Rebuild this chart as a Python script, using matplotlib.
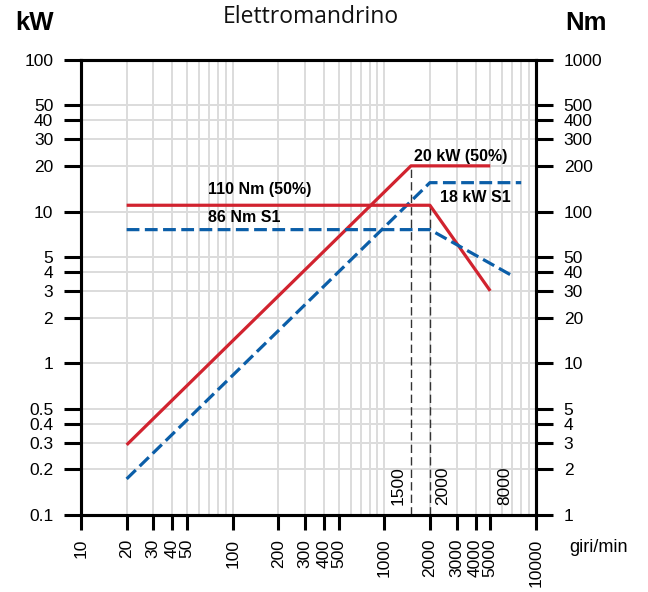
import matplotlib
matplotlib.use("Agg")
import matplotlib.pyplot as plt
from matplotlib.ticker import FixedLocator, FixedFormatter, NullLocator

plt.rcParams['font.family'] = ['Liberation Sans', 'DejaVu Sans']

# speed (giri/min) and values
rpm_power_50 = [20, 1500, 5000]
kw_power_50 = [0.29, 20, 20]
rpm_torque_50 = [20, 2000, 5000]
nm_torque_50 = [110, 110, 30]

rpm_power_s1 = [20, 2000, 8000]
kw_power_s1 = [0.173, 15.5, 15.5]
rpm_torque_s1 = [20, 2000, 6900]
nm_torque_s1 = [76, 76, 38]

x_ticks = [10, 20, 30, 40, 50, 100, 200, 300, 400, 500, 1000, 2000, 3000, 4000, 5000, 10000]
kw_ticks = [0.1, 0.2, 0.3, 0.4, 0.5, 1, 2, 3, 4, 5, 10, 20, 30, 40, 50, 100]
kw_labels = ["0.1", "0.2", "0.3", "0.4", "0.5", "1", "2", "3", "4", "5",
             "10", "20", "30", "40", "50", "100"]
nm_ticks = [1, 2, 3, 4, 5, 10, 20, 30, 40, 50, 100, 200, 300, 400, 500, 1000]
marker_rpm = [1500, 2000, 8000]

red = "#d1232f"
blue = "#0b5ea8"
grid_c = "#dcdcdc"

fig = plt.figure(figsize=(6.48, 5.92), dpi=100)
ax = fig.add_axes([0.125, 0.130, 0.702, 0.769])
ax2 = ax.twinx()

ax.set_xscale("log")
ax.set_yscale("log")
ax2.set_yscale("log")
ax.set_xlim(10, 10000)
ax.set_ylim(0.1, 100)
ax2.set_ylim(1, 1000)

# grid
minor_x = [m * 10 ** d for d in range(1, 4) for m in range(1, 10)] + [10000]
for xv in minor_x:
    ax.axvline(xv, color=grid_c, lw=1.4, zorder=0)
for yv in kw_ticks:
    ax.axhline(yv, color=grid_c, lw=1.4, zorder=0)

# vertical markers
ax.plot([1500, 1500], [0.1, 20], color="#333333", lw=1, ls=(0, (6, 3)), zorder=1)
ax.plot([2000, 2000], [0.1, 11], color="#333333", lw=1, ls=(0, (6, 3)), zorder=1)

ax.plot(rpm_power_50, kw_power_50, color=red, lw=2.3, solid_capstyle="butt", zorder=3)
ax.plot(rpm_power_s1, kw_power_s1, color=blue, lw=2.3, ls=(0, (4, 1.7)), zorder=3)
ax2.plot(rpm_torque_50, nm_torque_50, color=red, lw=2.3, solid_capstyle="butt", zorder=3)
ax2.plot(rpm_torque_s1, nm_torque_s1, color=blue, lw=2.3, ls=(0, (4, 1.7)), zorder=3)

# ticks
ax.xaxis.set_major_locator(FixedLocator(x_ticks))
ax.xaxis.set_major_formatter(FixedFormatter([str(v) for v in x_ticks]))
ax.xaxis.set_minor_locator(NullLocator())
ax.yaxis.set_major_locator(FixedLocator(kw_ticks))
ax.yaxis.set_major_formatter(FixedFormatter(kw_labels))
ax.yaxis.set_minor_locator(NullLocator())
ax2.yaxis.set_major_locator(FixedLocator(nm_ticks))
ax2.yaxis.set_major_formatter(FixedFormatter([str(v) for v in nm_ticks]))
ax2.yaxis.set_minor_locator(NullLocator())

ax.tick_params(axis="x", direction="out", length=11, width=2.2, labelsize=12.5,
               labelrotation=90, pad=6)
ax.tick_params(axis="y", direction="out", length=12, width=2.2, labelsize=12.5, pad=8)
ax2.tick_params(axis="y", direction="out", length=12, width=2.2, labelsize=12.5, pad=8)
for a in (ax, ax2):
    for s in a.spines.values():
        s.set_linewidth(2.2)
        s.set_color("black")

# annotations
bold = dict(fontsize=11.5, fontweight="bold", transform=ax.transAxes, zorder=5)
ax.text(0.279, 0.714, "110 Nm (50%)", ha="left", va="center", **bold)
ax.text(0.279, 0.653, "86 Nm S1", ha="left", va="center", **bold)
ax.text(0.835, 0.787, "20 kW (50%)", ha="center", va="center", **bold)
ax.text(0.866, 0.697, "18 kW S1", ha="center", va="center", **bold)

label_x = [1232, 2432, 6240]
for xv, lab in zip(label_x, marker_rpm):
    ax.text(xv, 0.116, str(lab), rotation=90, ha="center", va="bottom", fontsize=12.5)

fig.text(0.48, 0.971, "Elettromandrino", ha="center", va="center",
         fontsize=16.5, family=["Open Sans", "DejaVu Sans"], color="#111111")
fig.text(0.053, 0.961, "kW", ha="center", va="center", fontsize=18.5, fontweight="bold")
fig.text(0.904, 0.961, "Nm", ha="center", va="center", fontsize=18.5, fontweight="bold")
fig.text(0.878, 0.076, "giri/min", ha="left", va="center", fontsize=13)

fig.savefig("out.png", dpi=100)
